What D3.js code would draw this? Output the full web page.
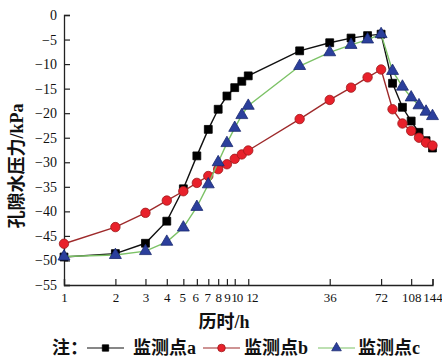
<!DOCTYPE html>
<html><head><meta charset="utf-8">
<script src="https://cdn.jsdelivr.net/npm/d3@7"></script>
<style>body{margin:0;background:#fff}svg{display:block}</style>
</head><body><svg id="c" width="442" height="358"></svg>
<script>
const times = [1,2,3,4,5,6,7,8,9,10,11,12,24,36,48,60,72,84,96,108,120,132,144];
const seriesA = [-49.3,-48.6,-46.5,-42.0,-35.4,-28.7,-23.3,-19.2,-16.5,-14.8,-13.5,-12.4,-7.3,-5.65,-4.7,-4.2,-3.9,-13.9,-18.8,-21.6,-23.9,-25.6,-27.1];
const seriesB = [-46.6,-43.2,-40.3,-37.8,-35.9,-34.2,-32.8,-31.4,-30.4,-29.3,-28.4,-27.6,-21.2,-17.3,-14.8,-12.7,-11.1,-19.2,-22.1,-23.6,-25.0,-26.0,-26.6];
const seriesC = [-49.2,-48.9,-48.1,-46.2,-43.3,-39.1,-34.5,-30.0,-26.1,-23.0,-20.4,-18.5,-10.4,-7.6,-6.1,-5.0,-3.9,-11.4,-14.6,-16.8,-18.4,-19.7,-20.6];
const xTicks = [1,2,3,4,5,6,7,8,9,10,12,36,72,108,144];
const yTicks = [0,-5,-10,-15,-20,-25,-30,-35,-40,-45,-50,-55];
const seriesNames = ["监测点a","监测点b","监测点c"];

const svg = d3.select("#c");
const serif = "'Liberation Serif','Times New Roman',serif";
const cjk = "'Liberation Serif','Noto Sans CJK SC',serif";
const x = d3.scaleLog().domain([1,144]).range([64,432.5]);
const y = d3.scaleLinear().domain([-55,0]).range([285,15]);

// axes
const fmt = d => d < 0 ? "\u2212" + Math.abs(d) : String(d);
const yAxis = svg.append("g").attr("transform","translate(64,0)")
  .call(d3.axisLeft(y).tickValues(yTicks).tickSize(-6).tickPadding(7).tickFormat(fmt));
const xAxis = svg.append("g").attr("transform","translate(0,285)")
  .call(d3.axisBottom(x).tickValues(xTicks).tickSize(-6).tickPadding(7).tickFormat(d=>String(d)));
[yAxis,xAxis].forEach(g=>{
  g.select(".domain").attr("stroke","#222").attr("stroke-width",1.3);
  g.selectAll(".tick line").attr("stroke","#222").attr("stroke-width",1.2);
  g.selectAll("text").attr("font-family",serif).attr("font-size",14).attr("fill","#111");
});
const nudge = {5:-1,6:-1.5,7:-1,8:0,9:0,10:1.6,12:3.2};
xAxis.selectAll(".tick text").attr("dy","0.75em").attr("font-size",13)
  .attr("letter-spacing", d => d>=10 && d<=12 ? -0.8 : null)
  .attr("dx", d => nudge[d] || 0);

// lines
const line = d3.line().x((d,i)=>x(times[i])).y(d=>y(d));
const cfg = [
  {data:seriesA, stroke:"#111", sym:d3.symbolSquare, size:62, fill:"#000", sstroke:"#000"},
  {data:seriesB, stroke:"#9e2a2b", sym:d3.symbolCircle, size:70, fill:"#e8212b", sstroke:"#9e1a1c"},
  {data:seriesC, stroke:"#7cc266", sym:d3.symbolTriangle, size:62, fill:"#2b3f9c", sstroke:"#1b2a70"}
];
cfg.forEach(c=>{
  svg.append("path").datum(c.data).attr("d",line).attr("fill","none")
    .attr("stroke",c.stroke).attr("stroke-width",1.4);
  svg.append("g").selectAll("path").data(c.data).join("path")
    .attr("d",d3.symbol().type(c.sym).size(c.size))
    .attr("transform",(d,i)=>`translate(${x(times[i])},${y(d)})`)
    .attr("fill",c.fill).attr("stroke",c.sstroke).attr("stroke-width",0.8);
});

// axis titles
svg.append("text").attr("transform","translate(23,166) rotate(-90)")
  .attr("text-anchor","middle").attr("font-family",cjk).attr("font-size",18)
  .attr("font-weight","bold").attr("fill","#111").text("孔隙水压力/kPa");
svg.append("text").attr("x",224).attr("y",328).attr("text-anchor","middle")
  .attr("font-family",cjk).attr("font-size",18).attr("font-weight","bold").attr("fill","#111").text("历时/h");

// legend
const lg = svg.append("g");
lg.append("text").attr("x",52).attr("y",354).attr("font-family",cjk).attr("font-size",18)
  .attr("font-weight","bold").attr("fill","#111").text("注：");
const lx = [87,203,318];
const tx = [133,244,358];
cfg.forEach((c,i)=>{
  lg.append("line").attr("x1",lx[i]).attr("x2",lx[i]+37).attr("y1",348).attr("y2",348)
    .attr("stroke",c.stroke).attr("stroke-width",1.1);
  lg.append("path").attr("d",d3.symbol().type(c.sym).size(c.size*0.65))
    .attr("transform",`translate(${lx[i]+18.5},348)`).attr("fill",c.fill).attr("stroke",c.sstroke).attr("stroke-width",0.8);
  lg.append("text").attr("x",tx[i]).attr("y",354).attr("font-family",cjk).attr("font-size",18)
    .attr("font-weight","bold").attr("fill","#111").text(seriesNames[i]);
});
</script></body></html>
